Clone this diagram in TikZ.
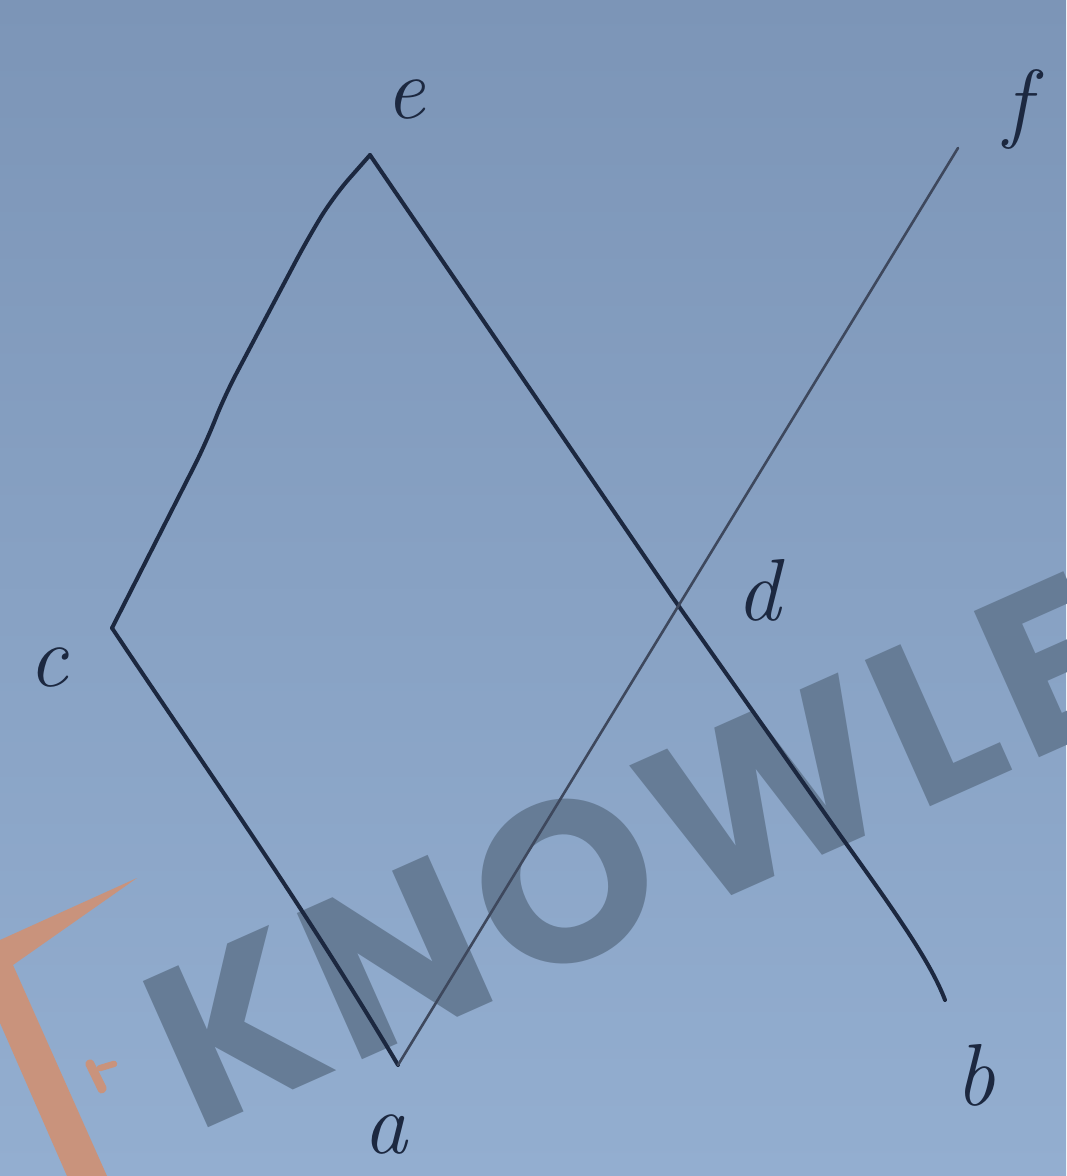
\documentclass[tikz,border=0pt]{standalone}
\usepackage{fontspec}
\newfontfamily\wmfont[LetterSpace=4.5]{Poppins}
\begin{document}
\begin{tikzpicture}[x=0.5pt,y=-0.5pt,
  edge/.style={draw=inkc,line width=2pt,line cap=round,line join=round},
  thinedge/.style={draw=inkc!85,line width=1.3pt,line cap=round},
  lbl/.style={text=inkc,font=\fontsize{44}{44}\selectfont\itshape}]
\definecolor{inkc}{HTML}{1C2840}
\definecolor{bgtop}{HTML}{7C95B7}
\definecolor{bgbot}{HTML}{93AED0}
\definecolor{wm}{HTML}{667C96}
\definecolor{orng}{HTML}{C9937C}
\useasboundingbox (0,0) rectangle (1066,1176);
\shade[top color=bgtop,bottom color=bgbot] (0,0) rectangle (1066,1176);
\begin{scope}
\clip (0,0) rectangle (1066,1176);
% logo
\fill[orng] (137,878) -- (0,940) -- (0,1023) -- (67,1176) -- (107,1176) -- (13,965) -- cycle;
\fill[orng,rounded corners=2pt] (84,1062) -- (92,1058) -- (108,1090) -- (100,1095) -- cycle;
\fill[orng,rounded corners=1.5pt] (96,1066) -- (116,1060) -- (118,1066) -- (98,1072) -- cycle;
% watermark
\node[text=wm,font=\wmfont\bfseries\fontsize{114}{114}\selectfont,rotate=24,anchor=base west,inner sep=0pt] (wmtext) at (195,1134) {KNOWLE};
\end{scope}
% points
\coordinate (e) at (370,155);
\coordinate (c) at (112,628);
\coordinate (a) at (398,1065);
\coordinate (b) at (945,1000);
\coordinate (f) at (958,148);
\coordinate (d) at (673,598);
% lines
\draw[edge,rounded corners=12pt] (e) -- (333,197) -- (307,240) -- (225,395) -- (205,445) -- (c);
\draw[edge] (c) .. controls (200,760) and (300,900) .. (a);
\draw[edge] (e) -- (d) -- (840,835) .. controls (890,905) and (930,960) .. (b);
\draw[thinedge] (a) -- (f);
% labels
\node[lbl] (le) at (405,100) {e};
\node[lbl] (lf) at (1018,110) {f};
\node[lbl] (ld) at (758,590) {d};
\node[lbl] (lc) at (48,668) {c};
\node[lbl] (la) at (385,1135) {a};
\node[lbl] (lb) at (975,1075) {b};
\end{tikzpicture}
\end{document}
